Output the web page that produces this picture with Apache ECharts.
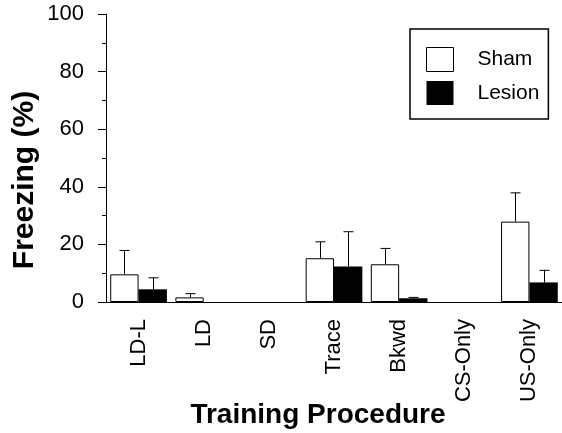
<!DOCTYPE html>
<html>
<head>
<meta charset="utf-8">
<style>
  html, body { margin: 0; padding: 0; background: #fff; }
  #chart { width: 562px; height: 433px; }
</style>
<script src="https://cdn.jsdelivr.net/npm/echarts@6/dist/echarts.min.js"></script>
</head>
<body>
<div id="chart"></div>
<script>
// training procedures on the x axis
const categories = ['LD-L', 'LD', 'SD', 'Trace', 'Bkwd', 'CS-Only', 'US-Only']
// mean freezing (%) and top of the error bar (mean + sem)
const shamMean = [9.6, 1.6, 0, 15.2, 13.1, 0, 27.9]
const shamTop = [17.9, 2.9, null, 20.9, 18.6, null, 37.9]
const lesionMean = [4.4, 0, 0, 12.3, 1.3, 0, 6.8]
const lesionTop = [8.4, null, null, 24.4, 1.6, null, 11.0]
const yTicks = [0, 20, 40, 60, 80, 100]

const font = '"Liberation Sans", Arial, sans-serif'
const gapPct = 0.13

// zero-height bars would still draw their outline on the axis, so leave them out
const asBar = v => (v === 0 ? '-' : v)

function errorSeries(name, tops, means, side) {
    return {
        name: name + ' err',
        type: 'custom',
        silent: true,
        z: 1,
        data: tops.map((t, i) => [i, means[i], t]),
        renderItem(params, api) {
            const top = api.value(2)
            if (top == null || isNaN(top)) {
                return
            }
            const band = api.size([1, 0])[0]
            const barW = band * (1 - gapPct) / 2
            const base = api.coord([api.value(0), api.value(1)])
            const tip = api.coord([api.value(0), top])
            const x = Math.round(base[0] + side * barW / 2) + 0.5
            const style = { stroke: '#000', lineWidth: 1 }
            return {
                type: 'group',
                children: [
                    { type: 'line', shape: { x1: x, y1: base[1], x2: x, y2: tip[1] }, style },
                    { type: 'line', shape: { x1: x - 5, y1: tip[1], x2: x + 5, y2: tip[1] }, style }
                ]
            }
        }
    }
}

const chart = echarts.init(document.getElementById('chart'))
chart.setOption({
    animation: false,
    textStyle: { fontFamily: font, color: '#000' },
    grid: { left: 106, right: -3, top: 14, bottom: 131 },
    legend: {
        orient: 'vertical',
        left: 410,
        top: 29,
        padding: [18, 9, 14, 16],
        itemGap: 9,
        itemWidth: 27,
        itemHeight: 24,
        borderColor: '#000',
        borderWidth: 1.5,
        textStyle: { fontSize: 21, color: '#000', padding: [0, 0, 0, 19], fontFamily: font },
        data: [
            { name: 'Sham', icon: 'rect', itemStyle: { color: '#fff', borderColor: '#000', borderWidth: 1 } },
            { name: 'Lesion', icon: 'rect', itemStyle: { color: '#000' } }
        ]
    },
    xAxis: {
        type: 'category',
        data: categories,
        axisLine: { lineStyle: { color: '#000', width: 1 } },
        axisTick: { alignWithLabel: true, length: 7, lineStyle: { color: '#000' } },
        axisLabel: { rotate: 90, fontSize: 22, color: '#000', margin: 17, fontFamily: font }
    },
    yAxis: {
        type: 'value',
        min: 0,
        max: 100,
        interval: 20,
        splitLine: { show: false },
        axisLine: { show: true, lineStyle: { color: '#000', width: 1 } },
        axisTick: { show: true, length: 8, lineStyle: { color: '#000' } },
        minorTick: { show: true, splitNumber: 2, length: 4, lineStyle: { color: '#000' } },
        axisLabel: {
            fontSize: 22,
            color: '#000',
            margin: 22,
            fontFamily: font,
            formatter: v => (yTicks.includes(v) ? String(v) : '')
        }
    },
    graphic: [
        {
            type: 'text',
            x: 25,
            y: 180,
            rotation: Math.PI / 2,
            style: {
                text: 'Freezing (%)',
                font: 'bold 30px ' + font,
                fill: '#000',
                align: 'center',
                verticalAlign: 'middle'
            }
        },
        {
            type: 'text',
            x: 318,
            y: 415,
            style: {
                text: 'Training Procedure',
                font: 'bold 28px ' + font,
                fill: '#000',
                align: 'center',
                verticalAlign: 'middle'
            }
        }
    ],
    series: [
        {
            name: 'Sham',
            type: 'bar',
            data: shamMean.map(asBar),
            barGap: 0,
            barCategoryGap: gapPct * 100 + '%',
            z: 2,
            itemStyle: { color: '#fff', borderColor: '#000', borderWidth: 1 }
        },
        {
            name: 'Lesion',
            type: 'bar',
            data: lesionMean.map(asBar),
            barGap: 0,
            barCategoryGap: gapPct * 100 + '%',
            z: 2,
            itemStyle: { color: '#000' }
        },
        errorSeries('Sham', shamTop, shamMean, -1),
        errorSeries('Lesion', lesionTop, lesionMean, 1)
    ]
})
</script>
</body>
</html>
